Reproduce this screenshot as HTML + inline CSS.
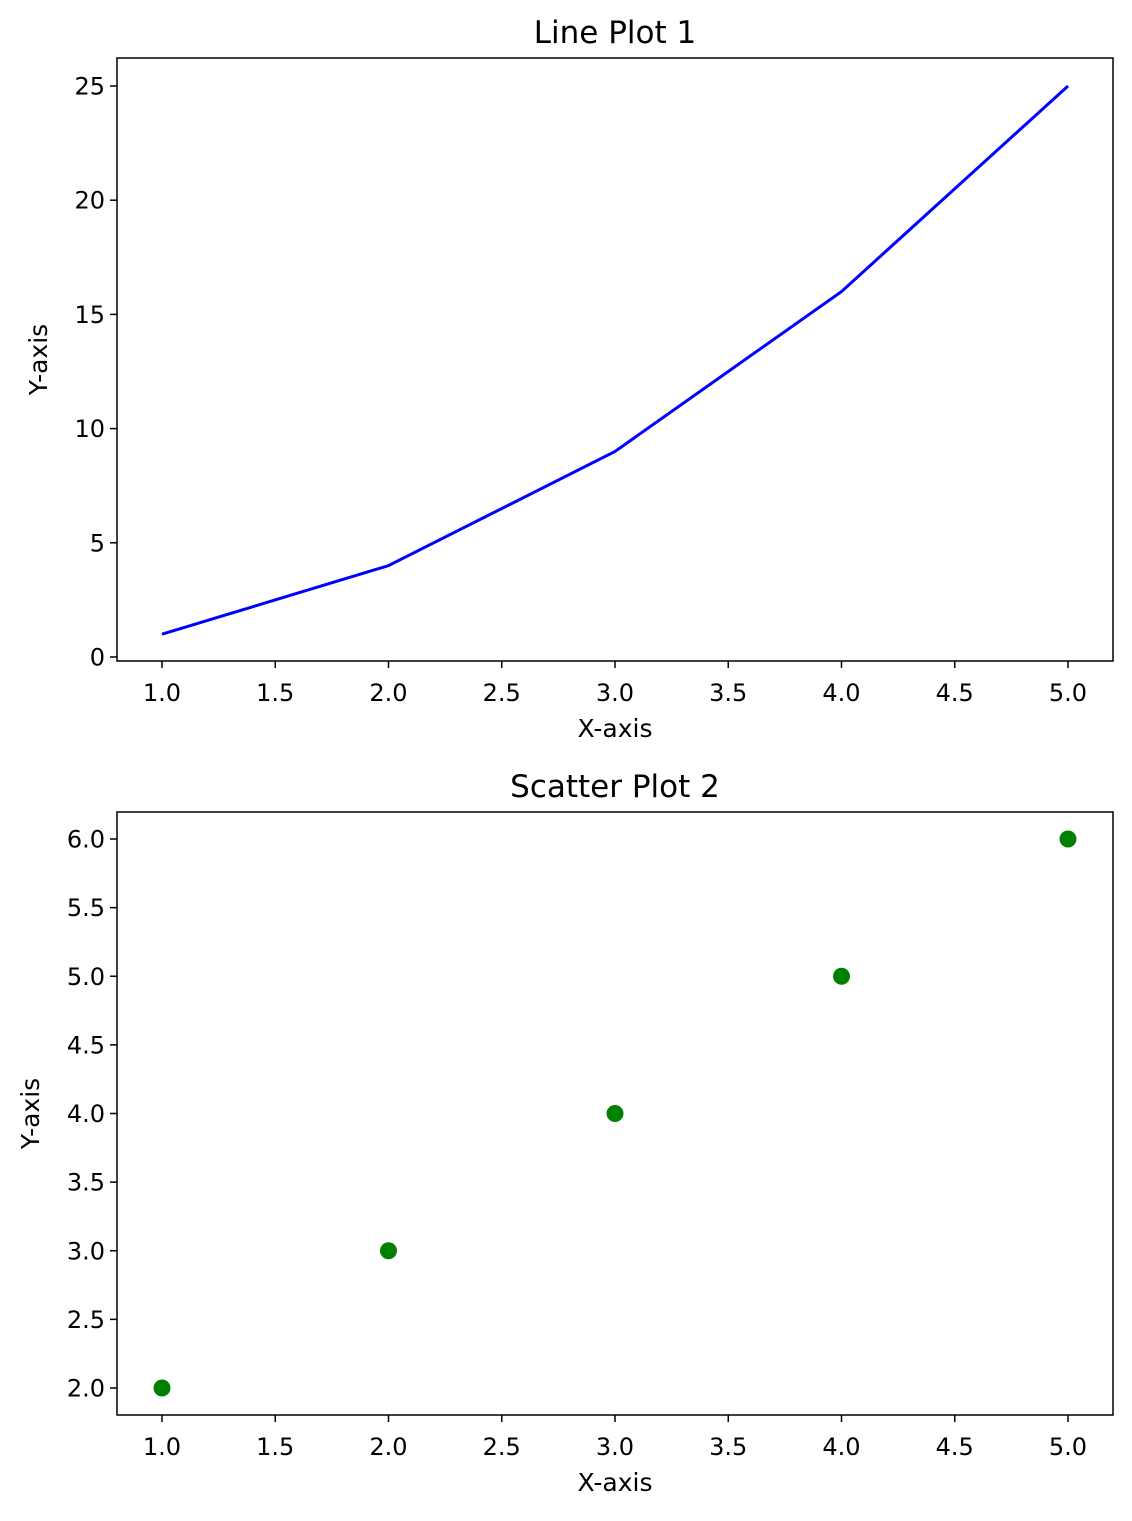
<!DOCTYPE html>
<html><head><meta charset="utf-8">
<style>
body{margin:0;background:#fff;}
svg text{font-family:"DejaVu Sans","Liberation Sans",sans-serif;fill:#000;}
</style></head>
<body>
<svg id="fig" width="1132" height="1516" xmlns="http://www.w3.org/2000/svg"></svg>
<script>
const lineX = [1, 2, 3, 4, 5];
const lineY = [1, 4, 9, 16, 25];
const scatterX = [1, 2, 3, 4, 5];
const scatterY = [2, 3, 4, 5, 6];
const xTicks1 = ["1.0","1.5","2.0","2.5","3.0","3.5","4.0","4.5","5.0"];
const yTicks1 = ["0","5","10","15","20","25"];
const xTicks2 = ["1.0","1.5","2.0","2.5","3.0","3.5","4.0","4.5","5.0"];
const yTicks2 = ["2.0","2.5","3.0","3.5","4.0","4.5","5.0","5.5","6.0"];

const NS = "http://www.w3.org/2000/svg";
const svg = document.getElementById('fig');
function mk(tag, attrs, parent){
  const e = document.createElementNS(NS, tag);
  for (const k in attrs) e.setAttribute(k, attrs[k]);
  (parent||svg).appendChild(e);
  return e;
}
function panel(cfg){
  const g = mk('g', {});
  
  
  const sx = v => cfg.x0px + (v - cfg.x0v) * (cfg.x1px - cfg.x0px) / (cfg.x1v - cfg.x0v);
  const sy = v => cfg.y0px + (v - cfg.y0v) * (cfg.y1px - cfg.y0px) / (cfg.y1v - cfg.y0v);
  cfg.xt.forEach(t => {
    const x = sx(parseFloat(t));
    const tk = mk('line', {x1:x, x2:x, y1:cfg.bottom, y2:cfg.bottom+7, stroke:'#000', 'stroke-width':1.5}, g);
    
    
    const tx = mk('text', {x:x, y:cfg.bottom+40, 'font-size':24, 'text-anchor':'middle'}, g);
    tx.textContent = t;
    
    
  });
  cfg.yt.forEach(t => {
    const y = sy(parseFloat(t));
    const tk = mk('line', {x1:cfg.left-7, x2:cfg.left, y1:y, y2:y, stroke:'#000', 'stroke-width':1.5}, g);
    
    
    const tx = mk('text', {x:cfg.left-12, y:y+8.5, 'font-size':24, 'text-anchor':'end'}, g);
    tx.textContent = t;
    
    
  });
  if (cfg.type === 'line') {
    const pts = cfg.xs.map((v,i) => sx(v) + ',' + sy(cfg.ys[i])).join(' ');
    const pl = mk('polyline', {points:pts, fill:'none', stroke:'#0000ff', 'stroke-width':3}, g);
    
    
  } else {
    cfg.xs.forEach((v,i) => {
      const c = mk('circle', {cx:sx(v), cy:sy(cfg.ys[i]), r:8.5, fill:'#008000'}, g);
      
      
    });
  }
  const fr = mk('rect', {x:cfg.left, y:cfg.top, width:cfg.right-cfg.left, height:cfg.bottom-cfg.top, fill:'none', stroke:'#000', 'stroke-width':1.5}, g);
  
  
  const ti = mk('text', {x:(cfg.left+cfg.right)/2, y:cfg.top-15, 'font-size':31, 'text-anchor':'middle'}, g);
  ti.textContent = cfg.title;
  
  
  const xl = mk('text', {x:(cfg.left+cfg.right)/2, y:cfg.bottom+76, 'font-size':25, 'text-anchor':'middle'}, g);
  xl.textContent = 'X-axis';
  
  
  const yc = (cfg.top+cfg.bottom)/2;
  const yl = mk('text', {x:cfg.ylabX, y:yc, 'font-size':25, 'text-anchor':'middle', transform:'rotate(-90 '+cfg.ylabX+' '+yc+')'}, g);
  yl.textContent = 'Y-axis';
  
  
}
panel({name:'line-plot-1', type:'line', title:'Line Plot 1', xs:lineX, ys:lineY, xt:xTicks1, yt:yTicks1,
  left:117, right:1113, top:58, bottom:661,
  x0v:1, x1v:5, x0px:162, x1px:1068, y0v:0, y1v:25, y0px:657, y1px:86, ylabX:47});
panel({name:'scatter-plot-2', type:'scatter', title:'Scatter Plot 2', xs:scatterX, ys:scatterY, xt:xTicks2, yt:yTicks2,
  left:117, right:1113, top:812, bottom:1415,
  x0v:1, x1v:5, x0px:162, x1px:1068, y0v:2, y1v:6, y0px:1388, y1px:839, ylabX:39});
</script>
</body></html>
